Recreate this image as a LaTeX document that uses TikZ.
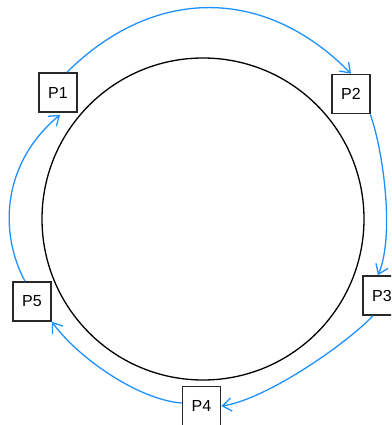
\documentclass[tikz,border=0pt]{standalone}
\usepackage{fontspec}
\setmainfont{Liberation Sans}
\usetikzlibrary{arrows.meta}
\definecolor{arrowblue}{RGB}{30,144,255}
\definecolor{boxgray}{RGB}{40,40,40}
\tikzset{
  pbox/.style={draw=boxgray, line width=1.6pt, fill=white, minimum width=38pt, minimum height=39pt, inner sep=0pt, font=\fontsize{16}{19}\selectfont},
  flow/.style={draw=arrowblue, line width=1.3pt, -{Straight Barb[length=9pt,width=13pt,line width=1.3pt]}},
}
\begin{document}
\begin{tikzpicture}[x=1pt,y=-1pt]
\useasboundingbox (0,0) rectangle (391,425);
\clip (0,0) rectangle (391,425);
\node[draw=black, line width=1.3pt, circle, minimum size=322pt, inner sep=0pt] (ring) at (203,219) {};
\node[pbox] (p1) at (58,92.5) {P1};
\node[pbox] (p2) at (351,94) {P2};
\node[pbox] (p3) at (382,295.5) {P3};
\node[pbox] (p4) at (201.5,406) {P4};
\node[pbox] (p5) at (32,301.5) {P5};
\draw[flow] ([xshift=9pt]p1.north) .. controls (154,-14) and (265,-14) .. (p2.north);
\draw[flow] ([xshift=-0.5pt]p2.south east) .. controls (383,150) and (395,235) .. ([xshift=-4pt]p3.north);
\draw[flow] ([xshift=-9pt]p3.south) .. controls (345,345) and (265,400) .. (p4.east);
\draw[flow] ([yshift=3pt]p4.west) .. controls (140,400) and (80,360) .. (p5.south east);
\draw[flow] ([xshift=-7pt]p5.north) .. controls (0,235) and (0,165) .. ([xshift=2pt,yshift=-2pt]p1.south);
\end{tikzpicture}
\end{document}
